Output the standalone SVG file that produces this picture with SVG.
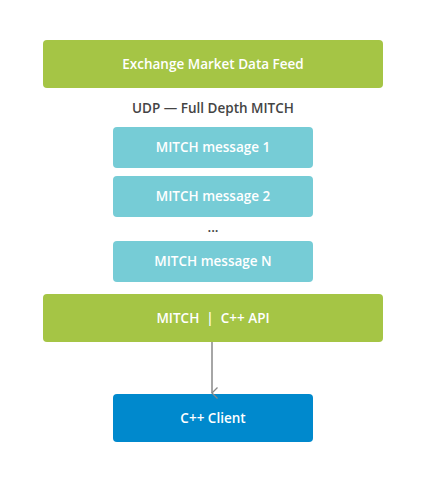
<svg xmlns="http://www.w3.org/2000/svg" width="425" height="484" viewBox="0 0 425 484">
<style>
.t{font-family:"Source Sans Pro","Open Sans","Noto Sans",sans-serif;font-weight:600;font-size:13.5px;text-anchor:middle;fill:#fff}
.d{fill:#444}
.g{fill:#a5c545}
.c{fill:#76ccd6}
.b{fill:#0089cd}
</style>
<defs>
<marker id="a" markerWidth="14" markerHeight="10" refX="7" refY="8" orient="auto" markerUnits="userSpaceOnUse" viewBox="0 0 14 10">
<path d="M1.5,2.5 L7,8 L12.5,2.5" fill="none" stroke="#888" stroke-width="1.3"/>
</marker>
</defs>
<rect width="425" height="484" fill="#fff"/>
<g id="feed"><rect class="g" x="43" y="40" width="340" height="48" rx="4"/><text class="t" x="213" y="69">Exchange Market Data Feed</text></g>
<g id="udp-label"><text class="t d" x="213" y="113">UDP — Full Depth MITCH</text></g>
<g id="msg1"><rect class="c" x="113" y="127" width="200" height="41" rx="4"/><text class="t" x="213" y="152">MITCH message 1</text></g>
<g id="msg2"><rect class="c" x="113" y="176" width="200" height="41" rx="4"/><text class="t" x="213" y="201">MITCH message 2</text></g>
<g id="dots"><text class="t d" x="213" y="232">...</text></g>
<g id="msgN"><rect class="c" x="113" y="241" width="200" height="41" rx="4"/><text class="t" x="213" y="266">MITCH message N</text></g>
<g id="api"><rect class="g" x="43" y="294" width="340" height="48" rx="4"/><text class="t" x="213" y="323" xml:space="preserve">MITCH  |  C++ API</text></g>
<g id="client"><rect class="b" x="113" y="394" width="200" height="48" rx="4"/><text class="t" x="213" y="423">C++ Client</text></g>
<g id="connectors"><line x1="212" y1="342" x2="212" y2="393" stroke="#888" stroke-width="1.5" marker-end="url(#a)"/></g>
</svg>
